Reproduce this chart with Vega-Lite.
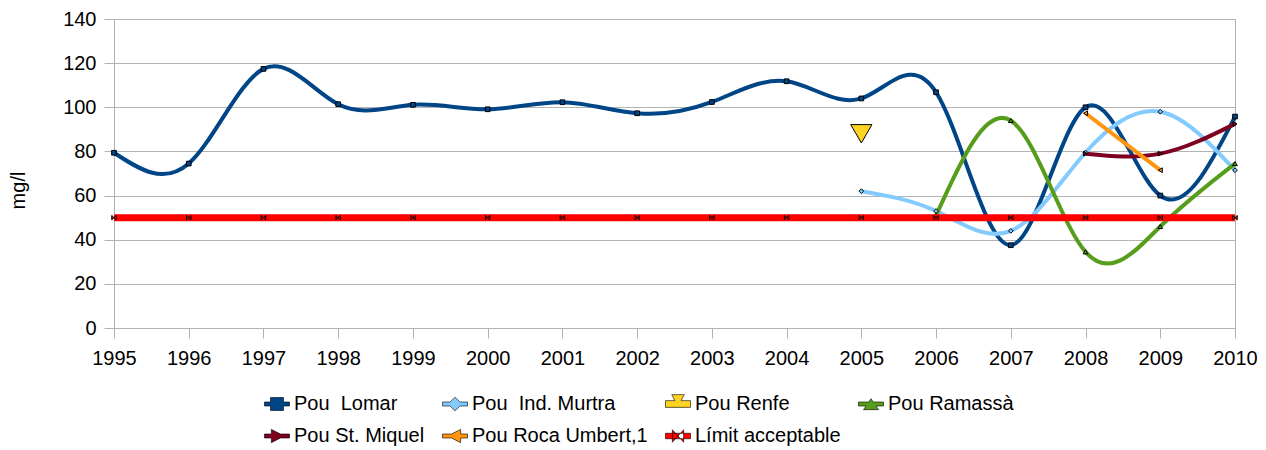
{
  "$schema": "https://vega.github.io/schema/vega-lite/v6.json",
  "width": 1121,
  "height": 309,
  "autosize": "none",
  "padding": {"left": 114, "top": 19, "right": 31, "bottom": 122},
  "background": "white",
  "config": {
    "font": "Liberation Sans",
    "view": {"stroke": "#b3b3b3", "strokeWidth": 1},
    "axis": {"domainColor": "#b3b3b3", "tickColor": "#b3b3b3", "gridColor": "#b3b3b3", "tickSize": 10}
  },
  "data": {
    "values": [
      {"year": 1995, "series": "Pou\u00a0 Lomar", "value": 79.4},
      {"year": 1996, "series": "Pou\u00a0 Lomar", "value": 74.5},
      {"year": 1997, "series": "Pou\u00a0 Lomar", "value": 117.4},
      {"year": 1998, "series": "Pou\u00a0 Lomar", "value": 101.4},
      {"year": 1999, "series": "Pou\u00a0 Lomar", "value": 101.1},
      {"year": 2000, "series": "Pou\u00a0 Lomar", "value": 99.1},
      {"year": 2001, "series": "Pou\u00a0 Lomar", "value": 102.3},
      {"year": 2002, "series": "Pou\u00a0 Lomar", "value": 97.3},
      {"year": 2003, "series": "Pou\u00a0 Lomar", "value": 102.4},
      {"year": 2004, "series": "Pou\u00a0 Lomar", "value": 111.8},
      {"year": 2005, "series": "Pou\u00a0 Lomar", "value": 104},
      {"year": 2006, "series": "Pou\u00a0 Lomar", "value": 106.8},
      {"year": 2007, "series": "Pou\u00a0 Lomar", "value": 37.5},
      {"year": 2008, "series": "Pou\u00a0 Lomar", "value": 100},
      {"year": 2009, "series": "Pou\u00a0 Lomar", "value": 60},
      {"year": 2010, "series": "Pou\u00a0 Lomar", "value": 95.8},
      {"year": 2005, "series": "Pou\u00a0 Ind. Murtra", "value": 62},
      {"year": 2006, "series": "Pou\u00a0 Ind. Murtra", "value": 53},
      {"year": 2007, "series": "Pou\u00a0 Ind. Murtra", "value": 44},
      {"year": 2008, "series": "Pou\u00a0 Ind. Murtra", "value": 79.5},
      {"year": 2009, "series": "Pou\u00a0 Ind. Murtra", "value": 98},
      {"year": 2010, "series": "Pou\u00a0 Ind. Murtra", "value": 71.5},
      {"year": 2005, "series": "Pou Renfe", "value": 88},
      {"year": 2006, "series": "Pou Ramassà", "value": 51},
      {"year": 2007, "series": "Pou Ramassà", "value": 94},
      {"year": 2008, "series": "Pou Ramassà", "value": 34.5},
      {"year": 2009, "series": "Pou Ramassà", "value": 46},
      {"year": 2010, "series": "Pou Ramassà", "value": 74.5},
      {"year": 2008, "series": "Pou St. Miquel", "value": 79},
      {"year": 2009, "series": "Pou St. Miquel", "value": 79},
      {"year": 2010, "series": "Pou St. Miquel", "value": 92.5},
      {"year": 2008, "series": "Pou Roca Umbert,1", "value": 97.3},
      {"year": 2009, "series": "Pou Roca Umbert,1", "value": 71.5},
      {"year": 1995, "series": "Límit acceptable", "value": 50},
      {"year": 1996, "series": "Límit acceptable", "value": 50},
      {"year": 1997, "series": "Límit acceptable", "value": 50},
      {"year": 1998, "series": "Límit acceptable", "value": 50},
      {"year": 1999, "series": "Límit acceptable", "value": 50},
      {"year": 2000, "series": "Límit acceptable", "value": 50},
      {"year": 2001, "series": "Límit acceptable", "value": 50},
      {"year": 2002, "series": "Límit acceptable", "value": 50},
      {"year": 2003, "series": "Límit acceptable", "value": 50},
      {"year": 2004, "series": "Límit acceptable", "value": 50},
      {"year": 2005, "series": "Límit acceptable", "value": 50},
      {"year": 2006, "series": "Límit acceptable", "value": 50},
      {"year": 2007, "series": "Límit acceptable", "value": 50},
      {"year": 2008, "series": "Límit acceptable", "value": 50},
      {"year": 2009, "series": "Límit acceptable", "value": 50},
      {"year": 2010, "series": "Límit acceptable", "value": 50}
    ]
  },
  "encoding": {
    "x": {"field": "year", "type": "quantitative", "scale": {"domain": [1995, 2010], "nice": false, "zero": false},
      "axis": {"title": null, "values": [1995,1996,1997,1998,1999,2000,2001,2002,2003,2004,2005,2006,2007,2008,2009,2010], "format": "d", "grid": false, "labelPadding": 10, "labelFlush": false, "labelFont": "Liberation Sans", "labelFontSize": 20, "labelColor": "#000"}},
    "y": {"field": "value", "type": "quantitative", "scale": {"domain": [0, 140], "nice": false},
      "axis": {"title": "mg/l", "titleFont": "Liberation Sans", "titleFontSize": 20, "titleFontWeight": "normal", "titleColor": "#000", "titleY": 171, "labelFont": "Liberation Sans", "labelFontSize": 20, "labelColor": "#000", "values": [0,20,40,60,80,100,120,140], "grid": true, "labelPadding": 8, "titlePadding": 34}}
  },
  "layer": [
    {
      "transform": [{"filter": "datum.series != 'Límit acceptable' && datum.series != 'Pou Renfe'"}],
      "mark": {"type": "line", "interpolate": "natural", "strokeWidth": 4},
      "encoding": {
        "color": {"field": "series", "type": "nominal", "legend": null,
          "scale": {"domain": ["Pou\u00a0 Lomar", "Pou\u00a0 Ind. Murtra", "Pou Ramassà", "Pou St. Miquel", "Pou Roca Umbert,1"],
                    "range": ["#004586", "#83caff", "#579d1c", "#7e0021", "#ff950e"]}}
      }
    },
    {
      "transform": [{"filter": "datum.series != 'Límit acceptable' && datum.series != 'Pou Renfe'"}],
      "mark": {"type": "point", "filled": true, "size": 22, "stroke": "black", "strokeWidth": 1, "opacity": 1},
      "encoding": {
        "fill": {"field": "series", "type": "nominal",
          "scale": {"domain": ["Pou\u00a0 Lomar", "Pou\u00a0 Ind. Murtra", "Pou Renfe", "Pou Ramassà", "Pou St. Miquel", "Pou Roca Umbert,1", "Límit acceptable"],
                    "range": ["#004586", "#83caff", "#ffd320", "#579d1c", "#7e0021", "#ff950e", "#ff0000"]},
          "legend": {
            "title": null, "orient": "none", "legendX": 150, "legendY": 372, "direction": "horizontal", "columns": 4,
            "labelFontSize": 20, "labelFont": "Liberation Sans", "labelColor": "#000", "labelOffset": 4, "labelLimit": 400,
            "symbolSize": 625, "symbolStrokeColor": "black", "symbolStrokeWidth": 0.6, "symbolOpacity": 1,
            "columnPadding": 16, "rowPadding": 9, "gridAlign": "each",
            "encode": {"symbols": {"update": {"shape": {"signal": "datum.value == 'Pou Renfe' ? 'M-1,-0.27H-0.25L-0.5,-0.75H0.5L0.25,-0.27H1V0.27H-1Z' : datum.value == 'Pou Ramassà' ? 'M-1,-0.16H-0.18L0,-0.43L0.18,-0.16H1V0.16H0.4L0.6,0.45H-0.6L-0.4,0.16H-1Z' : datum.value == 'Pou St. Miquel' ? 'M-1,-0.16H-0.45V-0.53L0.28,-0.16H1V0.16H0.28L-0.45,0.53V0.16H-1Z' : datum.value == 'Pou Roca Umbert,1' ? 'M-1,-0.16H-0.28L0.45,-0.53V-0.16H1V0.16H0.45V0.53L-0.28,0.16H-1Z' : datum.value == 'Límit acceptable' ? 'M-1,-0.22H1V0.22H-1Z M-0.45,-0.5L0.45,0.5V-0.5L-0.45,0.5Z' : datum.value == 'Pou\u00a0 Ind. Murtra' ? 'M-1,-0.16H-0.39L0,-0.55L0.39,-0.16H1V0.16H0.39L0,0.55L-0.39,0.16H-1Z' : 'M-1,-0.16H-0.52V-0.52H0.52V-0.16H1V0.16H0.52V0.52H-0.52V0.16H-1Z'"}}}}
          }},
        "shape": {"field": "series", "type": "nominal", "legend": null,
          "scale": {"domain": ["Límit acceptable", "Pou\u00a0 Lomar", "Pou\u00a0 Ind. Murtra", "Pou Renfe", "Pou Ramassà", "Pou St. Miquel", "Pou Roca Umbert,1"],
                    "range": ["M-1,-1L1,1V-1L-1,1Z", "square", "diamond", "triangle-down", "triangle-up", "triangle-right", "triangle-left"]}}
      }
    },
    {
      "transform": [{"filter": "datum.series == 'Pou Renfe'"}],
      "mark": {"type": "point", "filled": true, "size": 450, "stroke": "black", "strokeWidth": 1, "opacity": 1},
      "encoding": {
        "fill": {"field": "series", "type": "nominal"},
        "shape": {"field": "series", "type": "nominal", "legend": null}
      }
    },
    {
      "transform": [{"filter": "datum.series == 'Límit acceptable'"}],
      "mark": {"type": "line", "color": "#ff0000", "strokeWidth": 7},
      "encoding": {}
    },
    {
      "transform": [{"filter": "datum.series == 'Límit acceptable'"}],
      "mark": {"type": "point", "filled": true, "size": 20, "stroke": "black", "strokeWidth": 1, "opacity": 1},
      "encoding": {
        "fill": {"field": "series", "type": "nominal"},
        "shape": {"field": "series", "type": "nominal", "legend": null}
      }
    }
  ]
}
